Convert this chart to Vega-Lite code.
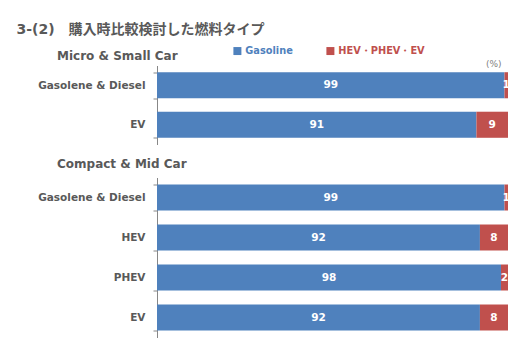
{
  "$schema": "https://vega.github.io/schema/vega-lite/v6.json",
  "padding": {"left": 16, "top": 22.5, "right": 0, "bottom": 0},
  "background": "white",
  "title": {"text": "3-(2)　購入時比較検討した燃料タイプ", "anchor": "start", "frame": "bounds", "font": "DejaVu Sans, Noto Sans CJK JP", "fontSize": 14, "fontWeight": "bold", "color": "#595959", "offset": 9},
  "config": {
    "view": {"stroke": null},
    "axisY": {"title": null, "domain": true, "ticks": true, "domainColor": "#878787", "tickColor": "#878787", "domainWidth": 1, "tickWidth": 1, "tickSize": 4, "tickBand": "extent", "labelPadding": 8, "labelFont": "DejaVu Sans", "labelFontSize": 10.5, "labelFontWeight": "bold", "labelColor": "#595959", "minExtent": 140.5, "maxExtent": 140.5},
    "title": {"font": "DejaVu Sans", "fontSize": 12, "fontWeight": "bold", "color": "#595959"}
  },
  "data": {"values": [
    {"panel": "Micro & Small Car", "type": "Gasolene & Diesel", "fuel": "Gasoline", "value": 99},
    {"panel": "Micro & Small Car", "type": "Gasolene & Diesel", "fuel": "HEV・PHEV・EV", "value": 1},
    {"panel": "Micro & Small Car", "type": "EV", "fuel": "Gasoline", "value": 91},
    {"panel": "Micro & Small Car", "type": "EV", "fuel": "HEV・PHEV・EV", "value": 9},
    {"panel": "Compact & Mid Car", "type": "Gasolene & Diesel", "fuel": "Gasoline", "value": 99},
    {"panel": "Compact & Mid Car", "type": "Gasolene & Diesel", "fuel": "HEV・PHEV・EV", "value": 1},
    {"panel": "Compact & Mid Car", "type": "HEV", "fuel": "Gasoline", "value": 92},
    {"panel": "Compact & Mid Car", "type": "HEV", "fuel": "HEV・PHEV・EV", "value": 8},
    {"panel": "Compact & Mid Car", "type": "PHEV", "fuel": "Gasoline", "value": 98},
    {"panel": "Compact & Mid Car", "type": "PHEV", "fuel": "HEV・PHEV・EV", "value": 2},
    {"panel": "Compact & Mid Car", "type": "EV", "fuel": "Gasoline", "value": 92},
    {"panel": "Compact & Mid Car", "type": "EV", "fuel": "HEV・PHEV・EV", "value": 8}
  ]},
  "spacing": 13,
  "vconcat": [
    {
      "width": 351, "height": 79,
      "title": {"text": "Micro & Small Car", "anchor": "start", "frame": "group", "dx": -100, "offset": -3.5},
      "transform": [{"filter": "datum.panel == 'Micro & Small Car'"}],
      "encoding": {
        "y": {"field": "type", "type": "nominal", "sort": ["Gasolene & Diesel", "EV"], "scale": {"paddingInner": 0.34, "paddingOuter": 0.17}, "axis": {"title": null}}
      },
      "layer": [
        {
          "mark": {"type": "bar"},
          "encoding": {
            "x": {"field": "value", "type": "quantitative", "stack": "zero", "scale": {"domain": [0, 100]}, "axis": {"orient": "top", "labels": false, "ticks": false, "domain": false, "grid": false, "title": "(%)", "titleFont": "DejaVu Sans", "titleFontSize": 9, "titleFontWeight": "normal", "titleColor": "#7f7f7f", "titleAnchor": "end", "titleAlign": "right", "titleX": 344, "titleY": 1, "titleBaseline": "alphabetic"}},
            "order": {"field": "fuel", "sort": "ascending"},
            "color": {"field": "fuel", "type": "nominal", "scale": {"domain": ["Gasoline", "HEV・PHEV・EV"], "range": ["#4F81BD", "#C0504D"]}, "legend": {"title": null, "orient": "none", "legendX": 75.5, "legendY": -19.5, "padding": 0, "direction": "horizontal", "symbolType": "square", "symbolSize": 64, "symbolStrokeWidth": 0, "labelFont": "DejaVu Sans", "labelFontSize": 9.8, "labelFontWeight": "bold", "labelOffset": 3, "columnPadding": 32, "encode": {"labels": {"update": {"fill": {"signal": "datum.value == 'Gasoline' ? '#4F81BD' : '#C0504D'"}}}}}}
          }
        },
        {
          "mark": {"type": "text", "color": "white", "font": "DejaVu Sans", "fontSize": 10.5, "fontWeight": "bold", "baseline": "middle"},
          "encoding": {
            "x": {"field": "value", "type": "quantitative", "stack": "zero", "bandPosition": 0.5},
            "order": {"field": "fuel", "sort": "ascending"},
            "detail": {"field": "fuel"},
            "text": {"field": "value", "type": "quantitative"}
          }
        }
      ]
    },
    {
      "width": 351, "height": 160,
      "title": {"text": "Compact & Mid Car", "anchor": "start", "frame": "group", "dx": -100, "offset": 2},
      "transform": [{"filter": "datum.panel == 'Compact & Mid Car'"}],
      "encoding": {
        "y": {"field": "type", "type": "nominal", "sort": ["Gasolene & Diesel", "HEV", "PHEV", "EV"], "scale": {"paddingInner": 0.35, "paddingOuter": 0.175}, "axis": {"title": null}}
      },
      "layer": [
        {
          "mark": {"type": "bar"},
          "encoding": {
            "x": {"field": "value", "type": "quantitative", "stack": "zero", "scale": {"domain": [0, 100]}, "axis": null},
            "order": {"field": "fuel", "sort": "ascending"},
            "color": {"field": "fuel", "type": "nominal"}
          }
        },
        {
          "mark": {"type": "text", "color": "white", "font": "DejaVu Sans", "fontSize": 10.5, "fontWeight": "bold", "baseline": "middle"},
          "encoding": {
            "x": {"field": "value", "type": "quantitative", "stack": "zero", "bandPosition": 0.5},
            "order": {"field": "fuel", "sort": "ascending"},
            "detail": {"field": "fuel"},
            "text": {"field": "value", "type": "quantitative"}
          }
        }
      ]
    }
  ]
}
